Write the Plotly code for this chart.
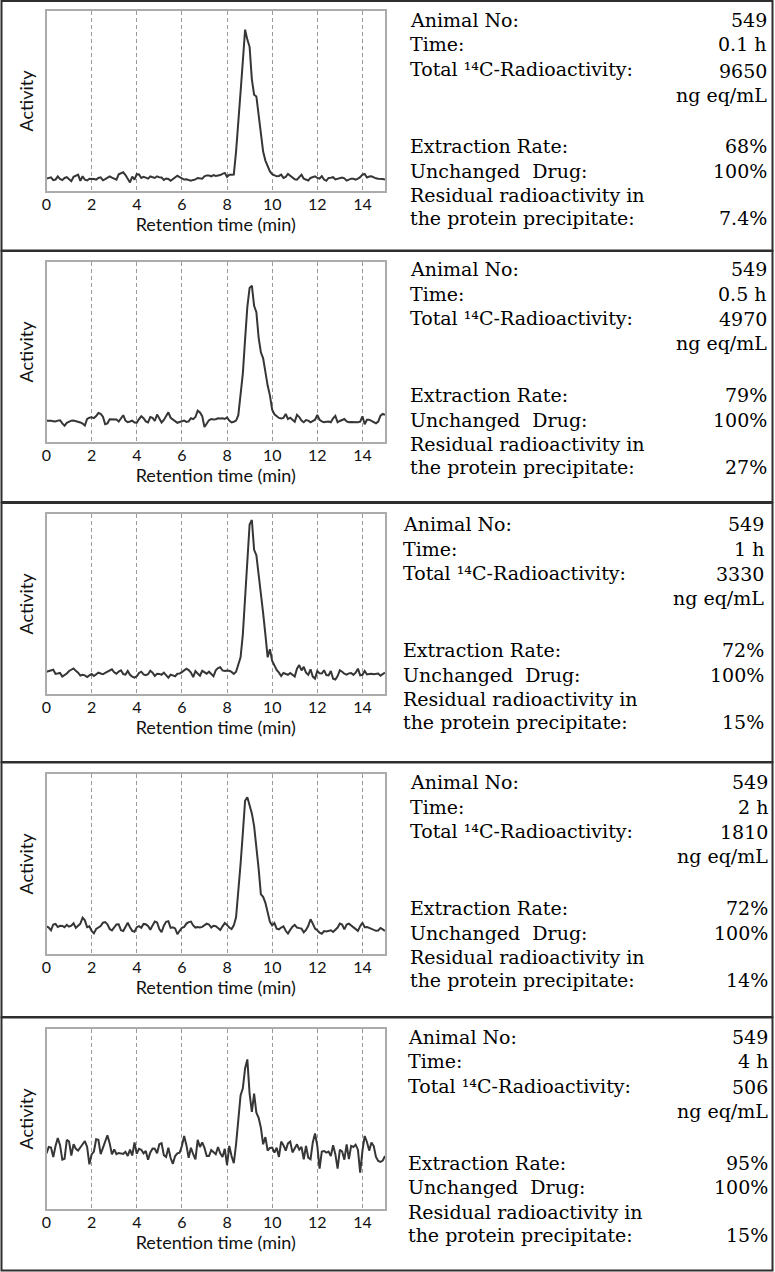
import plotly.graph_objects as go

# ---------------- data ----------------
retention_start = 0.0   # min, first sample
retention_step = 0.1    # min, sampling interval

activity_01h = [
    7.0, 7.3, 7.7, 6.2, 6.5, 8.3, 6.8, 6.2, 7.4, 7.8,
    6.4, 5.6, 8.0, 8.8, 9.2, 5.8, 8.3, 6.4, 6.0, 7.0,
    7.0, 6.8, 6.5, 7.4, 7.7, 6.1, 6.8, 7.4, 8.3, 7.6,
    6.9, 6.5, 9.4, 9.9, 10.5, 9.0, 7.0, 4.9, 8.2, 6.5,
    9.5, 9.3, 7.4, 8.0, 7.6, 7.0, 8.2, 7.8, 7.4, 8.3,
    7.7, 7.6, 6.3, 7.1, 6.8, 5.8, 6.8, 7.5, 8.6, 7.9,
    7.2, 6.5, 6.6, 6.4, 5.9, 6.3, 6.6, 7.4, 7.3, 7.0,
    8.3, 8.8, 8.7, 8.3, 9.0, 8.5, 8.8, 9.0, 9.7, 10.2,
    8.0, 9.2, 9.2, 9.3, 22.0, 37.0, 55.0, 72.0, 89.5, 84.0,
    80.0, 62.0, 53.5, 52.5, 42.0, 30.0, 22.0, 17.0, 13.5, 11.0,
    9.5, 9.0, 8.3, 8.5, 9.2, 7.4, 8.0, 9.6, 8.6, 7.4,
    6.7, 6.5, 8.0, 9.2, 7.0, 6.6, 6.0, 7.4, 7.8, 8.3,
    7.4, 7.0, 8.4, 6.5, 5.8, 7.4, 7.5, 7.8, 6.6, 6.8,
    7.1, 7.6, 7.2, 5.9, 6.5, 7.0, 6.9, 6.4, 7.0, 7.8,
    9.2, 9.6, 7.6, 8.2, 8.3, 7.6, 7.2, 7.0, 7.0, 6.8, 6.5,
]

activity_05h = [
    12.0, 12.1, 11.9, 11.7, 11.5, 12.0, 12.2, 10.5, 9.2, 10.8,
    11.6, 12.0, 12.1, 11.8, 11.3, 11.0, 10.4, 9.3, 12.9, 13.6,
    13.8, 13.4, 14.5, 16.2, 15.8, 14.2, 10.0, 10.5, 12.7, 12.6,
    12.8, 12.6, 11.5, 13.0, 15.0, 12.0, 11.1, 11.5, 12.0, 11.0,
    10.9, 12.8, 14.4, 13.3, 11.6, 11.0, 14.0, 13.5, 11.8, 15.4,
    13.0, 11.0, 12.4, 14.2, 16.6, 13.6, 12.5, 11.8, 10.8, 11.2,
    11.5, 12.0, 11.3, 11.6, 13.3, 12.8, 14.0, 17.5, 16.5, 14.5,
    8.5, 10.2, 12.2, 12.9, 12.6, 12.8, 13.3, 13.2, 13.3, 12.9,
    13.8, 12.0, 11.0, 11.4, 12.0, 15.0, 25.0, 38.0, 57.0, 75.0,
    85.5, 86.7, 75.6, 72.0, 58.0, 49.8, 46.5, 38.5, 31.4, 26.0,
    18.0, 15.5, 14.4, 13.5, 13.2, 13.5, 15.7, 12.9, 13.6, 12.5,
    11.4, 15.2, 14.0, 12.0, 11.1, 12.3, 12.0, 11.1, 12.0, 12.5,
    15.1, 12.5, 11.6, 11.1, 11.4, 11.5, 11.1, 13.3, 14.6, 11.1,
    11.8, 12.5, 12.9, 11.6, 11.1, 11.2, 11.1, 11.0, 11.1, 11.4,
    14.4, 10.0, 12.5, 12.5, 12.0, 11.2, 10.5, 11.5, 14.8, 15.7, 15.2,
]

activity_1h = [
    12.5, 12.9, 13.3, 13.6, 11.3, 11.6, 11.8, 9.8, 10.5, 11.5,
    12.9, 13.5, 14.3, 13.0, 12.0, 10.4, 10.8, 10.5, 9.6, 10.5,
    11.2, 10.1, 11.2, 12.0, 11.5, 11.1, 11.8, 12.5, 13.4, 13.8,
    12.2, 11.4, 12.6, 13.3, 11.2, 10.9, 12.9, 10.8, 9.8, 9.2,
    10.0, 11.8, 12.5, 11.0, 10.6, 11.1, 13.0, 12.0, 10.2, 11.4,
    11.3, 10.8, 12.0, 10.4, 9.2, 10.9, 10.6, 10.0, 11.4, 11.5,
    12.3, 13.3, 14.2, 13.4, 12.0, 9.5, 12.8, 11.5, 10.3, 13.0,
    12.4, 11.4, 12.5, 11.0, 10.0, 13.3, 14.5, 15.0, 13.2, 12.9,
    13.2, 13.0, 12.4, 11.3, 12.5, 16.5, 20.5, 33.0, 55.0, 76.0,
    94.0, 96.5, 80.0, 77.0, 67.0, 58.0, 45.0, 33.0, 20.5, 25.0,
    18.5, 16.0, 13.5, 12.0, 10.1, 11.8, 11.3, 10.8, 11.8, 11.0,
    9.8, 14.2, 16.2, 13.2, 15.2, 12.0, 10.8, 13.8, 9.8, 8.7,
    12.9, 11.6, 11.5, 13.3, 10.6, 10.5, 12.9, 8.6, 8.2, 10.1,
    13.3, 12.5, 11.4, 10.9, 11.6, 11.8, 10.8, 12.0, 14.2, 10.5,
    10.8, 12.9, 11.0, 11.2, 11.4, 11.1, 11.3, 11.5, 10.3, 11.4, 12.0,
]

activity_2h = [
    15.5, 14.8, 13.3, 16.5, 16.8, 15.1, 15.8, 15.7, 15.0, 16.3,
    15.3, 15.8, 17.2, 14.6, 15.8, 17.0, 20.3, 18.8, 15.0, 15.5,
    13.0, 11.6, 14.0, 14.9, 15.6, 17.5, 17.8, 16.6, 14.0, 13.2,
    14.8, 16.5, 16.6, 13.3, 12.9, 15.5, 17.5, 15.0, 13.0, 12.5,
    15.0, 15.6, 14.7, 16.8, 16.6, 15.7, 13.6, 16.0, 18.2, 17.6,
    14.0, 12.2, 15.8, 18.0, 18.3, 14.6, 14.9, 14.3, 11.1, 13.0,
    14.6, 15.1, 17.0, 17.8, 18.1, 16.0, 14.8, 15.1, 14.9, 15.2,
    16.1, 17.0, 16.5, 14.8, 15.8, 15.6, 14.6, 13.5, 15.5, 17.3,
    16.3, 14.8, 14.0, 16.0, 20.5, 33.5, 50.0, 67.0, 85.0, 87.0,
    82.5, 78.0, 71.0, 60.0, 47.5, 33.2, 31.8, 28.5, 23.0, 18.0,
    16.0, 17.3, 14.2, 13.8, 14.8, 15.5, 13.0, 11.5, 13.5, 15.3,
    16.3, 14.8, 14.5, 14.2, 12.2, 13.5, 15.8, 19.4, 17.0, 14.2,
    13.3, 12.0, 11.4, 12.9, 12.6, 12.8, 13.3, 12.4, 13.6, 14.8,
    17.0, 16.5, 13.8, 16.5, 17.0, 16.1, 15.1, 14.0, 13.0, 15.6,
    17.5, 15.0, 15.1, 14.6, 14.2, 13.4, 13.0, 13.2, 14.6, 13.8, 12.9,
]

activity_4h = [
    31.0, 34.5, 34.2, 29.0, 35.0, 39.5, 35.5, 27.5, 28.0, 38.5,
    37.5, 29.8, 36.0, 33.5, 32.5, 34.0, 36.0, 37.8, 34.5, 24.9,
    30.4, 32.0, 38.8, 38.5, 30.5, 34.0, 38.0, 41.0, 36.5, 30.4,
    33.2, 30.6, 31.2, 30.8, 30.7, 31.8, 29.5, 33.0, 29.8, 37.0,
    30.8, 33.5, 33.0, 31.0, 32.3, 27.5, 31.5, 33.6, 33.5, 31.0,
    36.0, 36.6, 30.0, 29.0, 34.1, 28.4, 25.2, 29.5, 31.0, 31.4,
    35.0, 40.6, 35.5, 28.5, 34.1, 30.5, 27.7, 38.5, 34.5, 37.0,
    34.0, 29.5, 29.5, 32.8, 31.5, 30.5, 34.5, 31.0, 29.0, 33.5,
    24.5, 35.1, 29.5, 25.5, 36.0, 48.0, 63.0, 67.0, 78.0, 83.0,
    64.0, 54.0, 64.0, 53.5, 50.7, 45.2, 36.0, 40.0, 32.5, 34.0,
    34.2, 31.4, 34.1, 29.0, 37.5, 35.5, 32.5, 36.5, 37.5, 31.5,
    34.0, 36.0, 33.0, 34.5, 27.7, 35.1, 28.6, 27.7, 37.0, 42.0,
    35.1, 22.5, 32.0, 32.3, 31.4, 32.0, 29.5, 35.5, 30.5, 22.5,
    33.0, 32.0, 27.5, 36.0, 27.8, 35.1, 34.5, 35.8, 33.0, 20.3,
    32.3, 40.6, 37.3, 32.5, 37.0, 35.0, 29.0, 26.8, 26.2, 27.0, 29.5,
]

series = [activity_01h, activity_05h, activity_1h, activity_2h, activity_4h]

x_ticks = [0, 2, 4, 6, 8, 10, 12, 14]
x_title = "Retention time (min)"
y_title = "Activity"
animal_no = ["549", "549", "549", "549", "549"]
sample_time = ["0.1 h", "0.5 h", "1 h", "2 h", "4 h"]
total_radioactivity = ["9650", "4970", "3330", "1810", "506"]
extraction_rate = ["68%", "79%", "72%", "72%", "95%"]
unchanged_drug = ["100%", "100%", "100%", "100%", "100%"]
residual_precipitate = ["7.4%", "27%", "15%", "14%", "15%"]

# ---------------- layout (pixels) ----------------
W, H = 775, 1272


def fx(x):
    return x / W


def fy(y):
    return 1 - y / H


box_top = [1.0, 251.0, 503.0, 762.5, 1017.5]
box_bottom = [250.5, 502.0, 762.0, 1017.0, 1270.5]
plot_top = [10.7, 261.7, 513.7, 773.7, 1028.7]
plot_bottom = [191.3, 442.3, 694.3, 954.3, 1209.3]
plot_left, plot_right = 46.5, 385.0
label_left = [408, 408, 401, 408, 406]
value_right = [769, 769, 766, 770, 770]
first_row = [20, 269, 524, 782, 1036.7]

SANS = "Lato, 'Open Sans', sans-serif"
SERIF = "'DejaVu Serif', 'Liberation Serif', serif"

fig = go.Figure()
annotations = []
shapes = []

for i, ys in enumerate(series):
    n = i + 1
    sfx = "" if n == 1 else str(n)
    fig.add_trace(go.Scatter(
        y=ys, x0=retention_start, dx=retention_step, mode="lines",
        line=dict(color="#363636", width=2.0),
        xaxis="x" + sfx, yaxis="y" + sfx, hoverinfo="skip", showlegend=False,
    ))
    fig.update_layout(**{
        "xaxis" + sfx: dict(
            domain=[fx(plot_left), fx(plot_right)], anchor="y" + sfx,
            range=[0, 15], tickmode="array", tickvals=x_ticks,
            ticktext=[str(v) for v in x_ticks], ticks="", ticklabelstandoff=-2,
            showgrid=True, gridcolor="#9a9a9a", gridwidth=1.3, griddash="4px,3px",
            showline=True, mirror=True, linecolor="#ababab", linewidth=1.5,
            zeroline=False, tickfont=dict(family=SANS, size=16, color="#111111"),
            title=dict(text=x_title, standoff=4,
                       font=dict(family=SANS, size=18, color="#111111")),
            automargin=False, fixedrange=True,
        ),
        "yaxis" + sfx: dict(
            domain=[fy(plot_bottom[i]), fy(plot_top[i])], anchor="x" + sfx,
            range=[0, 100], showticklabels=False, ticks="", showgrid=False,
            showline=True, mirror=True, linecolor="#ababab", linewidth=1.5,
            title=dict(text=y_title, standoff=6,
                       font=dict(family=SANS, size=18, color="#111111")),
            automargin=False, zeroline=False, fixedrange=True,
        ),
    })

    # panel frame
    shapes.append(dict(type="rect", xref="paper", yref="paper",
                       x0=fx(1.5), x1=fx(772.5), y0=fy(box_bottom[i]), y1=fy(box_top[i]),
                       line=dict(color="#2e2e2e", width=2)))

    # information block
    r0 = first_row[i]
    rows_left = [
        ("Animal No:", 0), ("Time:", 24.5), ("Total \u00b9\u2074C-Radioactivity:", 49),
        ("Extraction Rate:", 126), ("Unchanged\u00a0 Drug:", 150.5),
        ("Residual radioactivity in", 175), ("the protein precipitate:", 198),
    ]
    rows_right = [
        (animal_no[i], 0), (sample_time[i], 24.5), (total_radioactivity[i], 50.5),
        ("ng eq/mL", 74.5), (extraction_rate[i], 126), (unchanged_drug[i], 150.5),
        (residual_precipitate[i], 198),
    ]
    for txt, dy in rows_left:
        annotations.append(dict(text=txt, xref="paper", yref="paper",
                                x=fx(label_left[i]), y=fy(r0 + dy), showarrow=False,
                                xanchor="left", yanchor="middle",
                                font=dict(family=SERIF, size=19, color="#000000")))
    for txt, dy in rows_right:
        annotations.append(dict(text=txt, xref="paper", yref="paper",
                                x=fx(value_right[i]), y=fy(r0 + dy), showarrow=False,
                                xanchor="right", yanchor="middle",
                                font=dict(family=SERIF, size=19, color="#000000")))

fig.update_layout(
    width=W, height=H, margin=dict(l=0, r=0, t=0, b=0),
    paper_bgcolor="white", plot_bgcolor="white",
    showlegend=False, annotations=annotations, shapes=shapes,
)

fig.write_html(
    "out.html",
    config={"displayModeBar": False},
    post_script="document.body.style.margin='0';document.body.style.overflow='hidden';",
)
